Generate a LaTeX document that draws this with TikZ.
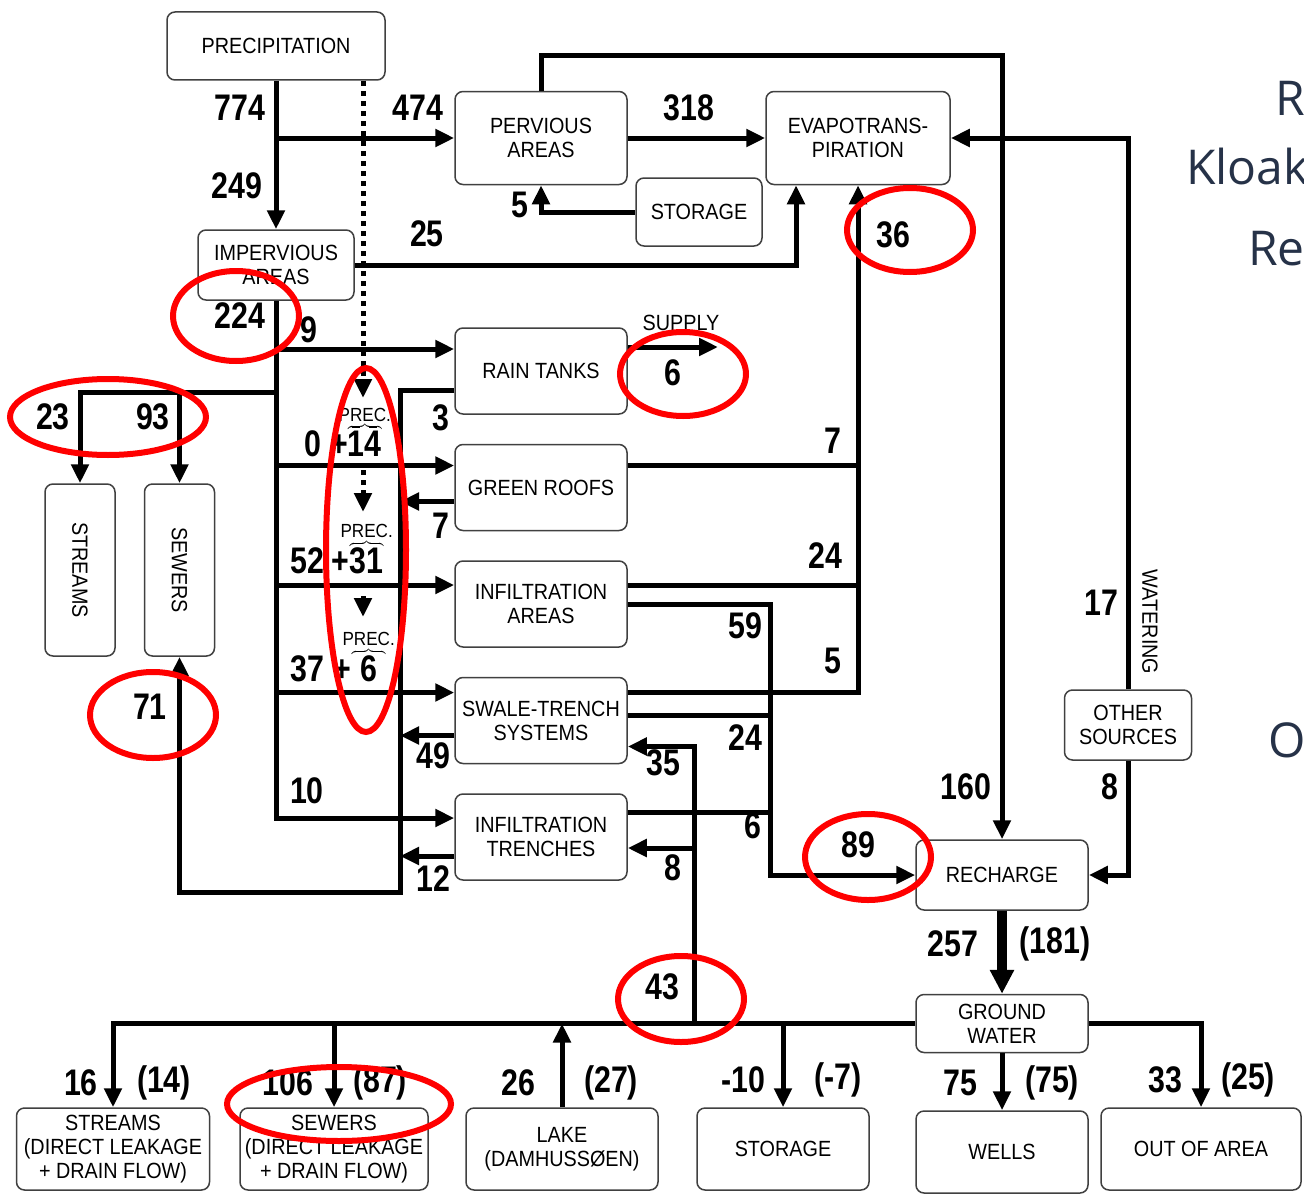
\documentclass[tikz,border=0pt]{standalone}
\usepackage{fontspec}
\setmainfont{Liberation Sans}
\newfontfamily\boxfam[FakeStretch=0.9]{Liberation Sans}
\newfontfamily\numfam[FakeStretch=0.82]{Liberation Sans}
\newfontfamily\slidefam{Open Sans}
\newcommand\boxfont{\boxfam\fontsize{22}{24}\selectfont}
\newcommand\numfont{\numfam\bfseries\fontsize{37}{40}\selectfont}
\newcommand\precfont{\boxfam\mdseries\fontsize{19}{20}\selectfont}
\newcommand\slidefont{\slidefam\fontsize{48}{52}\selectfont}
\usepackage{tikz}
\usetikzlibrary{arrows.meta, positioning}
\definecolor{slate}{RGB}{38,50,72}

\begin{document}
\begin{tikzpicture}[x=1pt, y=-1pt,
  box/.style={draw=black!75, line width=1.5pt, rounded corners=8pt, fill=white, align=center, inner sep=1pt, font=\boxfont},
  col/.style={box, minimum width=172pt, minimum height=86pt},
  bot/.style={box, minimum height=82pt},
  num/.style={inner sep=0pt, font=\numfont},
  line/.style={line width=5pt},
  flow/.style={line width=5pt, -{Triangle[length=19pt, width=17pt]}},
  dotflow/.style={flow, dash pattern=on 5pt off 5pt},
  bigflow/.style={line width=10pt, -{Triangle[length=24pt, width=23pt]}},
  ring/.style={red, line width=6pt},
  slide/.style={anchor=base west, inner sep=0pt, text=slate, font=\slidefont}
]
  \path[use as bounding box, fill=white] (0,0) rectangle (1304,1199);

  % boxes
  \node[box, minimum width=218pt, minimum height=68pt] (prec) at (276,46) {PRECIPITATION};
  \node[box, minimum width=172pt, minimum height=93pt] (perv) at (541,138) {PERVIOUS\\AREAS};
  \node[box, minimum width=184pt, minimum height=93pt] (evap) at (858,138) {EVAPOTRANS-\\PIRATION};
  \node[box, minimum width=126pt, minimum height=68pt] (stor) at (699,212) {STORAGE};
  \node[box, minimum width=156pt, minimum height=70pt] (imp) at (276,265) {IMPERVIOUS\\AREAS};
  \node[col] (rain) at (541,371) {RAIN TANKS};
  \node[col, below=29pt of rain] (green) {GREEN ROOFS};
  \node[col, below=29pt of green] (infa) {INFILTRATION\\AREAS};
  \node[col, below=29pt of infa] (swale) {SWALE-TRENCH\\SYSTEMS};
  \node[col, below=29pt of swale] (trench) {INFILTRATION\\TRENCHES};
  \node[box, minimum width=70pt, minimum height=172pt] (str) at (80,570) {\rotatebox{-90}{STREAMS}};
  \node[box, minimum width=70pt, minimum height=172pt, right=28pt of str] (sew) {\rotatebox{-90}{SEWERS}};
  \node[box, minimum width=127pt, minimum height=70pt] (other) at (1128,725) {OTHER\\SOURCES};
  \node[box, minimum width=172pt, minimum height=70pt] (rech) at (1002,875) {RECHARGE};
  \node[box, minimum width=172pt, minimum height=58pt, below=83pt of rech] (gw) {GROUND\\WATER};
  \node[bot, minimum width=193pt] (bstr) at (113,1149) {STREAMS\\(DIRECT LEAKAGE\\+ DRAIN FLOW)};
  \node[bot, minimum width=188pt] (bsew) at (334,1149) {SEWERS\\(DIRECT LEAKAGE\\+ DRAIN FLOW)};
  \node[bot, minimum width=192pt] (lake) at (562,1149) {LAKE\\(DAMHUSSØEN)};
  \node[bot, minimum width=172pt] (bsto) at (783,1149) {STORAGE};
  \node[bot, minimum width=172pt, below=57pt of gw] (wells) {WELLS};
  \node[bot, minimum width=200pt] (out) at (1201,1149) {OUT OF AREA};

  % ports
  \coordinate (rainin) at ([yshift=22pt]rain.west);
  \coordinate (rainout) at ([yshift=-19pt]rain.west);
  \coordinate (rainsup) at ([yshift=24pt]rain.east);
  \coordinate (greenin) at ([yshift=22pt]green.west);
  \coordinate (greenout) at ([yshift=-14pt]green.west);
  \coordinate (greenet) at ([yshift=22pt]green.east);
  \coordinate (infain) at ([yshift=19pt]infa.west);
  \coordinate (infaet) at ([yshift=19pt]infa.east);
  \coordinate (swalein) at ([yshift=28pt]swale.west);
  \coordinate (swaleout) at ([yshift=-15pt]swale.west);
  \coordinate (swaleet) at ([yshift=28pt]swale.east);
  \coordinate (swalerc) at ([yshift=5pt]swale.east);
  \coordinate (swaleback) at ([yshift=-26pt]swale.east);
  \coordinate (trenchin) at ([yshift=19pt]trench.west);
  \coordinate (trenchout) at ([yshift=-19pt]trench.west);
  \coordinate (trenchrc) at ([yshift=25pt]trench.east);
  \coordinate (trenchback) at ([yshift=-11pt]trench.east);
  \coordinate (p1) at (363,398);
  \coordinate (p2a) at (363,470);
  \coordinate (p2) at (363,512);
  \coordinate (p3a) at (363,596);
  \coordinate (p3) at (363,617);
  \coordinate (split) at (80,392);
  \coordinate (colbot) at (400,892);
  \coordinate (c59) at (770,875);
  \coordinate (c43) at (694,1022);
  \coordinate (supply) at (718,347);

  % precipitation
  \draw[flow] (prec.south) -- (imp.north);
  \draw[flow] (prec.south |- perv.west) -- (perv.west);
  \draw[dotflow] (prec.south -| p1) -- (p1);
  \draw[dotflow] (p2a) -- (p2);
  \draw[dotflow] (p3a) -- (p3);

  % pervious areas
  \draw[flow] (perv) -- (evap);
  \draw[flow] (perv.north) -- ++(0,-35) -| (rech.north);
  \draw[flow] (stor.west) -| (perv.south);

  % impervious areas
  \draw[flow] (imp.east) -| ([xshift=-62pt]evap.south);
  \draw[flow] (imp.south) |- (trenchin);
  \draw[flow] (imp.south |- rainin) -- (rainin);
  \draw[flow] (imp.south |- greenin) -- (greenin);
  \draw[flow] (imp.south |- infain) -- (infain);
  \draw[flow] (imp.south |- swalein) -- (swalein);
  \draw[flow] (imp.south |- split) -| (str.north);
  \draw[flow] (sew.north |- split) -- (sew.north);

  % back to sewers
  \draw[flow] (rainout) -| (colbot) -| (sew.south);
  \draw[flow] (greenout) -- (greenout -| colbot);
  \draw[flow] (swaleout) -- (swaleout -| colbot);
  \draw[flow] (trenchout) -- (trenchout -| colbot);

  % evapotranspiration
  \draw[flow] (swaleet) -| (evap.south);
  \draw[line] (greenet) -- (greenet -| evap.south);
  \draw[line] (infaet) -- (infaet -| evap.south);
  \draw[flow] (rainsup) -- (supply);

  % recharge
  \draw[flow] (infa.east) -| (c59) -- (rech.west);
  \draw[line] (swalerc) -- (swalerc -| c59);
  \draw[line] (trenchrc) -- (trenchrc -| c59);
  \draw[flow] (c43) |- (swaleback);
  \draw[flow] (trenchback -| c43) -- (trenchback);
  \draw[flow] (other.north) |- (evap.east);
  \draw[flow] (other.south) |- (rech.east);

  % groundwater
  \draw[bigflow] (rech) -- (gw);
  \draw[flow] (gw.west) -| (bstr.north);
  \draw[flow] (bsew.north |- gw.west) -- (bsew.north);
  \draw[flow] (lake.north) -- (lake.north |- gw.west);
  \draw[flow] (bsto.north |- gw.west) -- (bsto.north);
  \draw[flow] (gw) -- (wells);
  \draw[flow] (gw.east) -| (out.north);

  % numbers
  \node[num] (l774) at (240,108) {774};
  \node[num] (l249) at (237,186) {249};
  \node[num] (l474) at (418,108) {474};
  \node[num] (l318) at (689,108) {318};
  \node[num] (l5a) at (520,205) {5};
  \node[num] (l25) at (427,234) {25};
  \node[num] (l224) at (240,316) {224};
  \node[num] (l9) at (309,330) {9};
  \node[num] (l23) at (53,417) {23};
  \node[num] (l93) at (153,417) {93};
  \node[num] (l3) at (441,418) {3};
  \node[num] (l7a) at (441,526) {7};
  \node[num] (l49) at (433,756) {49};
  \node[num] (l12) at (433,879) {12};
  \node[num] (l71) at (150,707) {71};
  \node[num] (l10) at (307,791) {10};
  \node[num] (l6a) at (673,373) {6};
  \node[font=\boxfont, inner sep=0pt] (lsup) at (681,323) {SUPPLY};
  \node[num] (l36) at (893,235) {36};
  \node[num] (l7b) at (833,441) {7};
  \node[num] (l24a) at (825,556) {24};
  \node[num] (l5b) at (833,661) {5};
  \node[num] (l59) at (745,626) {59};
  \node[num] (l24b) at (745,738) {24};
  \node[num] (l6b) at (753,826) {6};
  \node[num] (l35) at (663,763) {35};
  \node[num] (l8a) at (673,868) {8};
  \node[num] (l43) at (662,987) {43};
  \node[num] (l89) at (858,845) {89};
  \node[num] (l160) at (966,787) {160};
  \node[num] (l17) at (1101,603) {17};
  \node[font=\boxfont, inner sep=0pt] (lwat) at (1150,622) {\rotatebox{-90}{WATERING}};
  \node[num] (l8b) at (1110,787) {8};
  \node[num] (l257) at (953,944) {257};
  \node[num] (l181) at (1055,944) {(181)};
  \node[num] (l16) at (81,1083) {16};
  \node[num] (l14) at (164,1083) {(14)};
  \node[num] (l106) at (288,1083) {106};
  \node[num] (l87) at (380,1083) {(87)};
  \node[num] (l26) at (518,1083) {26};
  \node[num] (l27) at (611,1083) {(27)};
  \node[num] (lm10) at (743,1080) {-10};
  \node[num] (lm7) at (838,1080) {(-7)};
  \node[num] (l75a) at (960,1083) {75};
  \node[num] (l75b) at (1052,1083) {(75)};
  \node[num] (l33) at (1165,1080) {33};
  \node[num] (l25b) at (1248,1080) {(25)};

  % precipitation shares
  \node[num, anchor=base west] (pgreen) at (304,456) {0\hspace{9pt}+\(\overbrace{\hbox to 34pt{\hss14\hss}}^{\hbox to 0pt{\hss\precfont PREC.\hss}}\)};
  \node[num, anchor=base west] (pinfa) at (290,573) {52\hspace{8pt}+\(\overbrace{\hbox to 34pt{\hss31\hss}}^{\hbox to 0pt{\hss\precfont PREC.\hss}}\)};
  \node[num, anchor=base west] (pswale) at (290,681) {37\hspace{10pt}+\(\overbrace{\hbox to 34pt{\hss6\hss}}^{\hbox to 0pt{\hss\precfont PREC.\hss}}\)};

  % red marks
  \draw[ring] (236,316) ellipse [x radius=63pt, y radius=45pt];
  \draw[ring] (108,417) ellipse [x radius=98pt, y radius=38pt];
  \draw[ring] (366,550) ellipse [x radius=40pt, y radius=182pt];
  \draw[ring] (683,374) ellipse [x radius=63pt, y radius=42pt];
  \draw[ring] (910,230) ellipse [x radius=63pt, y radius=42pt];
  \draw[ring] (153,715) ellipse [x radius=63pt, y radius=43pt];
  \draw[ring] (868,857) ellipse [x radius=63pt, y radius=43pt];
  \draw[ring] (681,999) ellipse [x radius=63pt, y radius=43pt];
  \draw[ring] (339,1104) ellipse [x radius=112pt, y radius=37pt];

  % slide text behind
  \node[slide] (sr) at (1275,115) {R};
  \node[slide] (sk) at (1186,184) {Kloak};
  \node[slide] (sre) at (1248,265) {Re};
  \node[slide] (so) at (1268,757) {O};
\end{tikzpicture}
\end{document}
